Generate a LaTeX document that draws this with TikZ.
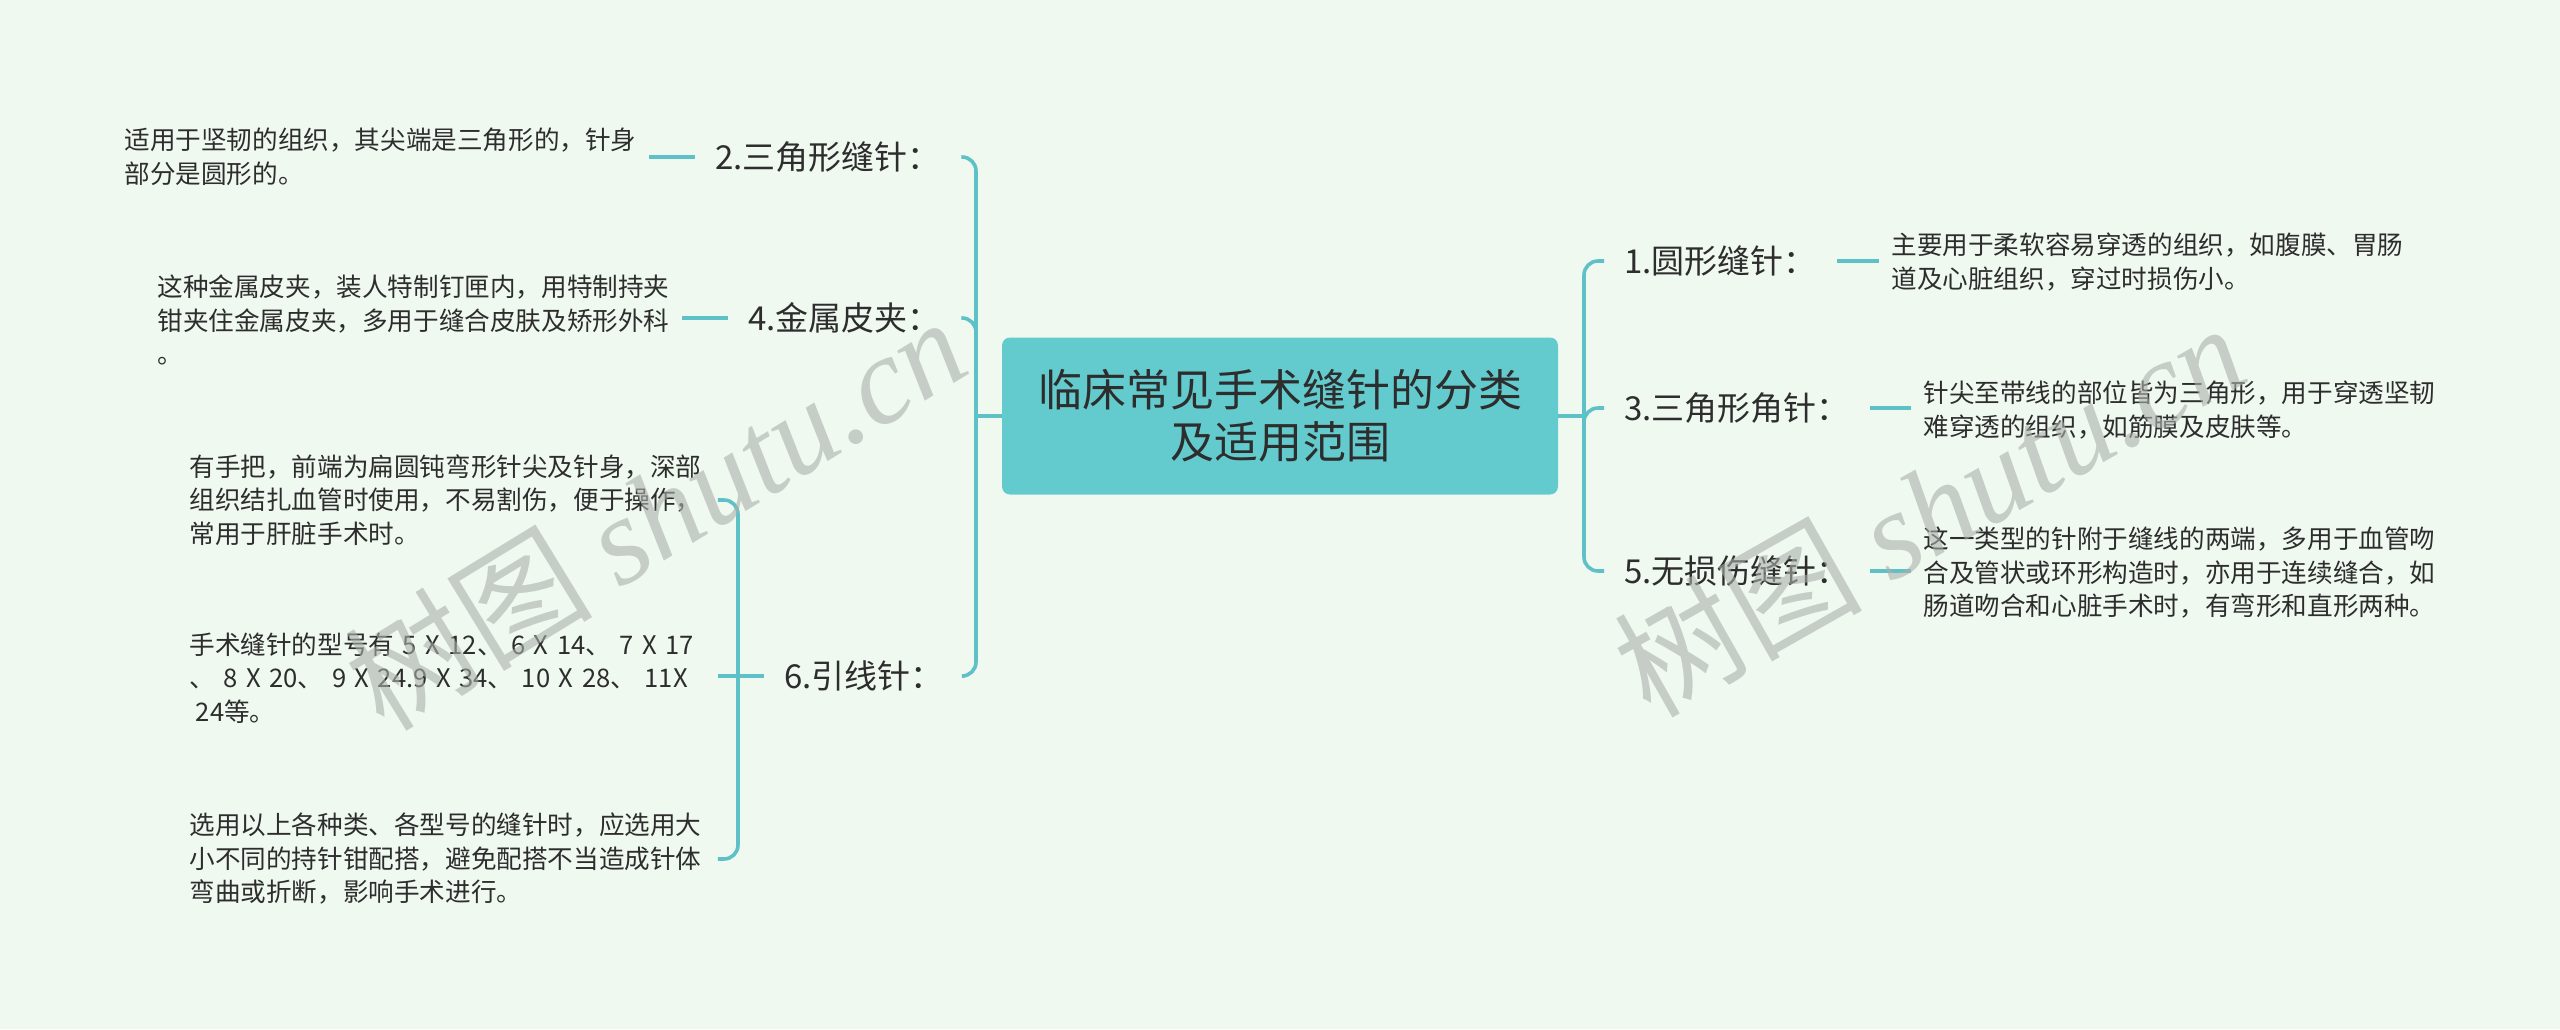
\documentclass[tikz,border=0pt]{standalone}
\usepackage{fontspec}
\setmainfont{Noto Sans CJK SC}
\newfontfamily\wmfont{Liberation Serif}
\usetikzlibrary{calc}
\definecolor{bgc}{RGB}{240,249,240}
\definecolor{ctr}{RGB}{99,203,206}
\definecolor{lnc}{RGB}{94,193,200}
\definecolor{txt}{RGB}{45,45,45}
\definecolor{wmc}{RGB}{170,176,170}
\begin{document}
\begin{tikzpicture}[x=0.5pt,y=-0.5pt,
  conn/.style={draw=lnc, line width=1.8pt, rounded corners=7pt},
  root/.style={fill=ctr, rounded corners=4pt, minimum width=278pt, minimum height=78.5pt, align=center, font=\fontsize{22pt}{26pt}\selectfont, text=txt},
  branch/.style={font=\fontsize{16.5pt}{20pt}\selectfont, text=txt, inner xsep=10pt, inner ysep=2pt},
  leaf/.style={font=\fontsize{12.8pt}{16.75pt}\selectfont, text=txt, align=left, inner xsep=6pt, inner ysep=2pt},
  subleaf/.style={leaf, text width=258pt},
  wm/.style={text=wmc, opacity=0.6, font=\fontsize{62pt}{66pt}\selectfont}]
\fill[bgc] (0,0) rectangle (2560,1029);
\useasboundingbox (0,0) rectangle (2560,1029);

% root
\node[root] (c) at (1280,416) {临床常见手术缝针的分类\\及适用范围};

% right branches
\node[branch, anchor=west] (r1) at (1604,261) {1.圆形缝针：};
\node[branch, anchor=west] (r3) at (1604,408) {3.三角形角针：};
\node[branch, anchor=west] (r5) at (1604,571) {5.无损伤缝针：};

\node[leaf, anchor=west] (lr1) at (1879,262) {主要用于柔软容易穿透的组织，如腹膜、胃肠\\道及心脏组织，穿过时损伤小。};
\node[leaf, anchor=west] (lr3) at (1911,410) {针尖至带线的部位皆为三角形，用于穿透坚韧\\难穿透的组织，如筋膜及皮肤等。};
\node[leaf, anchor=west] (lr5) at (1911,573) {这一类型的针附于缝线的两端，多用于血管吻\\合及管状或环形构造时，亦用于连续缝合，如\\肠道吻合和心脏手术时，有弯形和直形两种。};

% left branches
\node[branch, anchor=west] (g2) at (695,157) {2.三角形缝针：};
\node[branch, anchor=west] (g4) at (728,318) {4.金属皮夹：};
\node[branch, anchor=west] (g6) at (764,676) {6.引线针：};

\node[leaf, anchor=west] (ll2) at (112,157) {适用于坚韧的组织，其尖端是三角形的，针身\\部分是圆形的。};
\node[leaf, anchor=west] (ll4) at (145,320) {这种金属皮夹，装人特制钉匣内，用特制持夹\\钳夹住金属皮夹，多用于缝合皮肤及矫形外科\\。};

\node[subleaf, anchor=west] (s1) at (177,500) {有手把，前端为扁圆钝弯形针尖及针身，深部\\组织结扎血管时使用，不易割伤，便于操作，\\常用于肝脏手术时。};
\node[subleaf, anchor=west] (s2) at (177,678) {手术缝针的型号有 5 X 12、 6 X 14、 7 X 17\\、 8 X 20、 9 X 24.9 X 34、 10 X 28、 11X\\\hspace*{0.25em}24等。};
\node[subleaf, anchor=west] (s3) at (177,859) {选用以上各种类、各型号的缝针时，应选用大\\小不同的持针钳配搭，避免配搭不当造成针体\\弯曲或折断，影响手术进行。};

% spines
\coordinate (rsp) at (1584,416);
\coordinate (lsp) at (976,416);
\coordinate (sp6) at (738,676);

\draw[conn] (c.east) -- (rsp);
\draw[conn] (rsp) |- (r1.west);
\draw[conn] (rsp) |- (r3.west);
\draw[conn] (rsp) |- (r5.west);
\draw[conn] (r1.east) -- (lr1.west |- r1.east);
\draw[conn] (r3.east) -- (lr3.west |- r3.east);
\draw[conn] (r5.east) -- (lr5.west |- r5.east);

\draw[conn] (c.west) -- (lsp);
\draw[conn] (lsp) |- (g2.east);
\draw[conn] (lsp) |- (g4.east);
\draw[conn] (lsp) |- (g6.east);
\draw[conn] (g2.west) -- (ll2.east |- g2.west);
\draw[conn] (g4.west) -- (ll4.east |- g4.west);

\draw[conn] (g6.west) -- (sp6);
\draw[conn] (s1.east) -| (sp6);
\draw[conn] (s3.east) -| (sp6);
\draw[conn] (sp6) -- (s2.east |- sp6);

% watermarks
\node[wm, rotate=31.5] (w1) at (655,512) {树图 {\wmfont\itshape shutu.cn}};
\node[wm, rotate=29.5] (w2) at (1929,508) {树图 {\wmfont\itshape shutu.cn}};
\end{tikzpicture}
\end{document}
